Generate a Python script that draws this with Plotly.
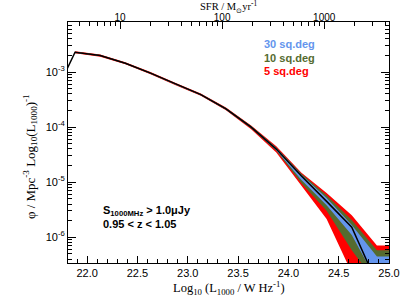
import numpy as np
import plotly.graph_objects as go

# ---- data ----
logL = [21.63, 21.88, 22.13, 22.38, 22.63, 22.88, 23.13, 23.38, 23.63, 23.88, 24.13, 24.38, 24.63, 24.88, 25.13]
log_phi = [-3.60, -2.64, -2.70, -2.84, -3.02, -3.22, -3.41, -3.67, -4.00, -4.40, -4.89, -5.35, -5.82, -6.84, -8.0]

# uncertainty bands (log10 phi), per survey area
band_L = [21.88, 22.13, 22.38, 22.63, 22.88, 23.13, 23.38, 23.63, 23.88, 24.13, 24.38, 24.63, 24.88, 25.13]
red_hi = [-2.62, -2.68, -2.82, -3.00, -3.20, -3.39, -3.645, -3.97, -4.35, -4.83, -5.20, -5.60, -6.15, -6.15]
red_lo = [-2.66, -2.72, -2.86, -3.04, -3.24, -3.43, -3.695, -4.04, -4.46, -5.07, -5.67, -6.65, -7.60, -7.60]
green_hi = [-2.63, -2.69, -2.83, -3.01, -3.21, -3.40, -3.655, -3.98, -4.37, -4.85, -5.24, -5.69, -6.24, -6.24]
green_lo = [-2.65, -2.71, -2.85, -3.03, -3.23, -3.42, -3.685, -4.02, -4.43, -5.02, -5.52, -6.24, -6.85, -6.85]
blue_hi = [-2.635, -2.695, -2.835, -3.015, -3.215, -3.405, -3.66, -3.99, -4.38, -4.87, -5.29, -5.78, -6.35, -6.35]
blue_lo = [-2.645, -2.705, -2.845, -3.025, -3.225, -3.415, -3.68, -4.01, -4.42, -4.96, -5.42, -5.96, -6.80, -6.80]

survey_labels = ["30 sq.deg", "10 sq.deg", "5 sq.deg"]
x_ticks = [22.0, 22.5, 23.0, 23.5, 24.0, 24.5, 25.0]
y_tick_exps = [-6, -5, -4, -3]
sfr_ticks = [10, 100, 1000]

BLUE = "#6495ED"
GREEN = "#556B2F"
RED = "#FF0000"

def p(v):
    return [10.0 ** a for a in v]

fig = go.Figure()
for hi, lo, col in [(red_hi, red_lo, RED), (green_hi, green_lo, GREEN), (blue_hi, blue_lo, BLUE)]:
    fig.add_trace(go.Scatter(x=band_L, y=p(hi), mode="lines", line=dict(width=0, color=col),
                             showlegend=False, hoverinfo="skip"))
    fig.add_trace(go.Scatter(x=band_L, y=p(lo), mode="lines", line=dict(width=0, color=col),
                             fill="tonexty", fillcolor=col, showlegend=False, hoverinfo="skip"))
fig.add_trace(go.Scatter(x=logL, y=p(log_phi), mode="lines", line=dict(color="black", width=1.5),
                         showlegend=False))

# top axis (SFR) – dummy invisible trace to anchor it
sfr_lo, sfr_hi = 0.49, 3.635
fig.add_trace(go.Scatter(x=[10 ** sfr_lo, 10 ** sfr_hi], y=[1e-4, 1e-4], xaxis="x2", mode="markers",
                         marker=dict(opacity=0), showlegend=False, hoverinfo="skip"))

tickfont = dict(family="Liberation Sans, Arial, sans-serif", size=11, color="black")

x_minor = [round(v, 1) for v in np.arange(21.9, 25.01, 0.1)]
y_minor = [m * 10.0 ** e for e in range(-7, -1) for m in range(2, 10)]
sfr_minor = [m * 10.0 ** e for e in range(0, 4) for m in range(2, 10)]

fig.update_layout(
    width=409, height=307,
    margin=dict(l=68, r=20, t=22, b=44, autoexpand=False),
    paper_bgcolor="white", plot_bgcolor="white",
    showlegend=False,
    xaxis=dict(range=[21.81, 25.0], showgrid=False, zeroline=False, automargin=False,
               showline=True, linecolor="black", linewidth=1, mirror=False,
               ticks="inside", ticklen=7, tickcolor="black",
               tickvals=x_ticks, ticktext=[f"{v:.1f}" for v in x_ticks], tickfont=tickfont,
               minor=dict(tickvals=x_minor, ticks="inside", ticklen=4, tickcolor="black", showgrid=False)),
    yaxis=dict(type="log", range=[-6.47, -2.09], showgrid=False, zeroline=False, automargin=False,
               showline=True, linecolor="black", linewidth=1, mirror="ticks",
               ticks="inside", ticklen=8, tickcolor="black",
               tickvals=[10.0 ** e for e in y_tick_exps],
               ticktext=[f"10<sup>{e}</sup>" for e in y_tick_exps], tickfont=tickfont,
               minor=dict(tickvals=y_minor, ticks="inside", ticklen=4, tickcolor="black", showgrid=False)),
    xaxis2=dict(type="log", overlaying="x", side="top", range=[sfr_lo, sfr_hi], automargin=False,
                showgrid=False, zeroline=False, showline=True, linecolor="black", linewidth=1,
                ticks="inside", ticklen=7, tickcolor="black", ticklabelstandoff=-4,
                tickvals=sfr_ticks, ticktext=[str(v) for v in sfr_ticks],
                tickfont=dict(tickfont, size=10),
                minor=dict(tickvals=sfr_minor, ticks="inside", ticklen=4, tickcolor="black", showgrid=False)),
)

serif = dict(family="Liberation Serif, Times New Roman, serif", size=13, color="black")
ann = []
ann.append(dict(text="Log<sub>10</sub> (L<sub>1000</sub> / W Hz<sup>-1</sup>)", xref="paper", yref="paper",
                x=0.5, y=-0.103, xanchor="center", yanchor="middle", showarrow=False,
                font=dict(serif, size=12.5)))
ann.append(dict(text="SFR / M<sub>\u2299</sub>yr<sup>-1</sup>", xref="paper", yref="paper",
                x=0.5, y=1.063, xanchor="center", yanchor="middle", showarrow=False, font=dict(serif, size=10.5)))
ann.append(dict(text="\u03c6 / Mpc<sup>-3</sup> Log<sub>10</sub>(L<sub>1000</sub>)<sup>-1</sup>", xref="paper", yref="paper",
                x=-0.118, y=(263 - 157) / 241, xanchor="center", yanchor="middle", textangle=-90,
                showarrow=False, font=serif))

lab_font = dict(family="Liberation Sans, Arial, sans-serif", size=11)
for lab, col, yy in zip(survey_labels, [BLUE, GREEN, RED], [44, 58, 71]):
    ann.append(dict(text=f"<b>{lab}</b>", xref="paper", yref="paper", x=(262 - 68) / 321,
                    y=(263 - yy) / 241, xanchor="left", yanchor="middle", showarrow=False,
                    font=dict(lab_font, color=col)))
ann.append(dict(text="<b>S<sub>1000MHz</sub> > 1.0\u03bcJy</b>", xref="paper", yref="paper",
                x=(101 - 68) / 321, y=(263 - 211) / 241, xanchor="left", yanchor="middle", showarrow=False,
                font=dict(lab_font, color="black")))
ann.append(dict(text="<b>0.95 < z < 1.05</b>", xref="paper", yref="paper",
                x=(101 - 68) / 321, y=(263 - 224) / 241, xanchor="left", yanchor="middle", showarrow=False,
                font=dict(lab_font, color="black")))
fig.update_layout(annotations=ann)

# remove the browser's default 8px body margin so the figure fills the window exactly
fig.write_html("out.html", config={"displayModeBar": False},
               post_script="document.body.style.margin='0px';document.body.style.overflow='hidden';")
